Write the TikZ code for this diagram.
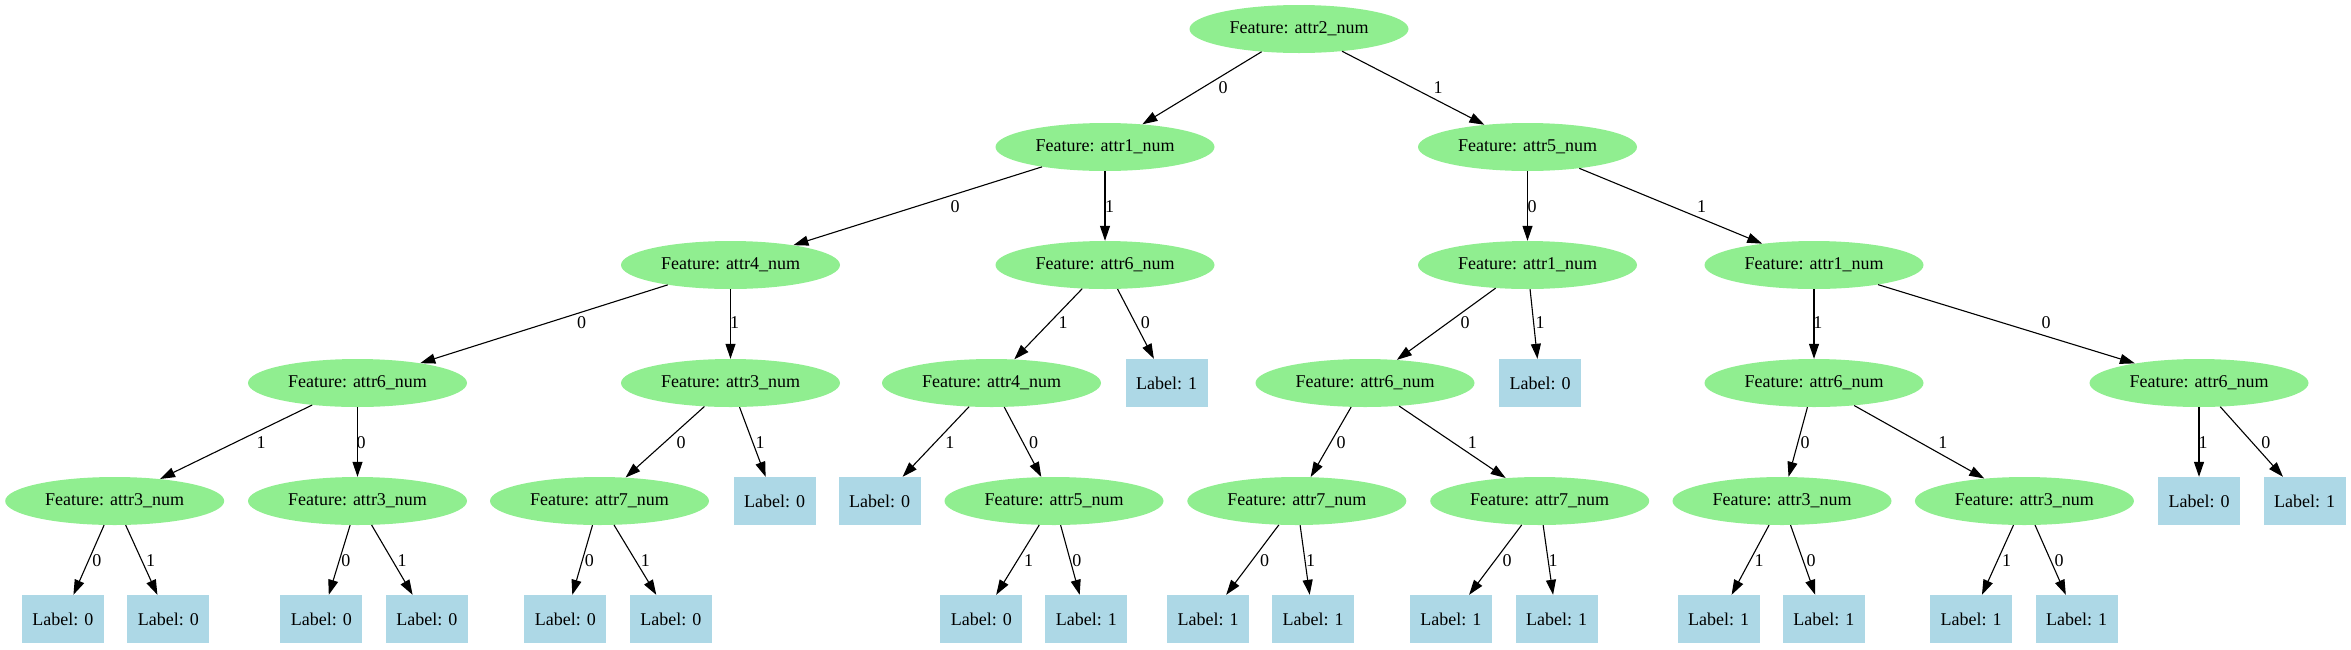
\documentclass[tikz,border=0pt]{standalone}
\usepackage{fontspec}
\setmainfont{Liberation Serif}
\usetikzlibrary{arrows.meta,shapes.geometric}
\definecolor{featgreen}{RGB}{144,238,144}
\definecolor{leafblue}{RGB}{173,216,230}
\begin{document}
\begin{tikzpicture}[x=1pt,y=-1pt,>={Triangle[length=15pt,width=10pt]}, font=\fontsize{18}{21}\selectfont, line join=round,
	feat/.style={ellipse, fill=featgreen, minimum width=219pt, minimum height=48pt, inner sep=0pt},
	leaf/.style={rectangle, fill=leafblue, minimum width=82pt, minimum height=48pt, inner sep=0pt},
	branch/.style={->, line width=1.1pt},
	lbl/.style={inner sep=0pt}]
	\useasboundingbox (0,0) rectangle (2351,649);
	\def\yo{29} \def\ya{147} \def\yb{265}
	\def\yc{383} \def\yd{501} \def\ye{619}
	%Tầng 0, 1, 2
	\node[feat] (n) at (1299,\yo) {Feature: attr2\_num};
	\node[feat] (n0) at (1105,\ya) {Feature: attr1\_num};
	\node[feat] (n1) at (1527.5,\ya) {Feature: attr5\_num};
	\node[feat] (n00) at (730.5,\yb) {Feature: attr4\_num};
	\node[feat] (n01) at (1105,\yb) {Feature: attr6\_num};
	\node[feat] (n10) at (1527.5,\yb) {Feature: attr1\_num};
	\node[feat] (n11) at (1814,\yb) {Feature: attr1\_num};
	%Tầng 3
	\node[feat] (n000) at (357.5,\yc) {Feature: attr6\_num};
	\node[feat] (n001) at (730.5,\yc) {Feature: attr3\_num};
	\node[feat] (n011) at (991.5,\yc) {Feature: attr4\_num};
	\node[leaf] (n010) at (1166.5,\yc) {Label: 1};
	\node[feat] (n100) at (1365,\yc) {Feature: attr6\_num};
	\node[leaf] (n101) at (1540,\yc) {Label: 0};
	\node[feat] (n111) at (1814,\yc) {Feature: attr6\_num};
	\node[feat] (n110) at (2199,\yc) {Feature: attr6\_num};
	%Tầng 4
	\node[feat] (n0001) at (114.7,\yd) {Feature: attr3\_num};
	\node[feat] (n0000) at (357.5,\yd) {Feature: attr3\_num};
	\node[feat] (n0010) at (599.5,\yd) {Feature: attr7\_num};
	\node[leaf] (n0011) at (774.7,\yd) {Label: 0};
	\node[leaf] (n0111) at (879.7,\yd) {Label: 0};
	\node[feat] (n0110) at (1054,\yd) {Feature: attr5\_num};
	\node[feat] (n1000) at (1296.8,\yd) {Feature: attr7\_num};
	\node[feat] (n1001) at (1539.7,\yd) {Feature: attr7\_num};
	\node[feat] (n1110) at (1782,\yd) {Feature: attr3\_num};
	\node[feat] (n1111) at (2024.4,\yd) {Feature: attr3\_num};
	\node[leaf] (n1101) at (2199,\yd) {Label: 0};
	\node[leaf] (n1100) at (2304.6,\yd) {Label: 1};
	%Tầng 5
	\node[leaf] (n00010) at (62.8,\ye) {Label: 0};
	\node[leaf] (n00011) at (168.4,\ye) {Label: 0};
	\node[leaf] (n00000) at (321.4,\ye) {Label: 0};
	\node[leaf] (n00001) at (426.8,\ye) {Label: 0};
	\node[leaf] (n00100) at (565.3,\ye) {Label: 0};
	\node[leaf] (n00101) at (670.9,\ye) {Label: 0};
	\node[leaf] (n01101) at (981.3,\ye) {Label: 0};
	\node[leaf] (n01100) at (1086.3,\ye) {Label: 1};
	\node[leaf] (n10000) at (1208,\ye) {Label: 1};
	\node[leaf] (n10001) at (1313,\ye) {Label: 1};
	\node[leaf] (n10010) at (1450.9,\ye) {Label: 1};
	\node[leaf] (n10011) at (1556.5,\ye) {Label: 1};
	\node[leaf] (n11101) at (1718.6,\ye) {Label: 1};
	\node[leaf] (n11100) at (1823.8,\ye) {Label: 1};
	\node[leaf] (n11111) at (1971,\ye) {Label: 1};
	\node[leaf] (n11110) at (2076.5,\ye) {Label: 1};
	%Cạnh
	\draw[branch] (n)--(n0) node[lbl] at (1223,88) {0};
	\draw[branch] (n)--(n1) node[lbl] at (1438,88) {1};
	\draw[branch] (n0)--(n00) node[lbl] at (955,207) {0};
	\draw[branch] (n0)--(n01) node[lbl] at (1109.5,207) {1};
	\draw[branch] (n1)--(n10) node[lbl] at (1532,207) {0};
	\draw[branch] (n1)--(n11) node[lbl] at (1701.5,207) {1};
	\draw[branch] (n00)--(n000) node[lbl] at (581.6,323) {0};
	\draw[branch] (n00)--(n001) node[lbl] at (734.7,323) {1};
	\draw[branch] (n01)--(n011) node[lbl] at (1063,323) {1};
	\draw[branch] (n01)--(n010) node[lbl] at (1145.3,323) {0};
	\draw[branch] (n10)--(n100) node[lbl] at (1465.2,323) {0};
	\draw[branch] (n10)--(n101) node[lbl] at (1540,323) {1};
	\draw[branch] (n11)--(n111) node[lbl] at (1817.9,323) {1};
	\draw[branch] (n11)--(n110) node[lbl] at (2046,323) {0};
	\draw[branch] (n000)--(n0001) node[lbl] at (261.2,443) {1};
	\draw[branch] (n000)--(n0000) node[lbl] at (361.2,443) {0};
	\draw[branch] (n001)--(n0010) node[lbl] at (681.1,443) {0};
	\draw[branch] (n001)--(n0011) node[lbl] at (760.2,443) {1};
	\draw[branch] (n011)--(n0111) node[lbl] at (949.9,443) {1};
	\draw[branch] (n011)--(n0110) node[lbl] at (1033.6,443) {0};
	\draw[branch] (n100)--(n1000) node[lbl] at (1341.2,443) {0};
	\draw[branch] (n100)--(n1001) node[lbl] at (1472.3,443) {1};
	\draw[branch] (n111)--(n1110) node[lbl] at (1805,443) {0};
	\draw[branch] (n111)--(n1111) node[lbl] at (1942.9,443) {1};
	\draw[branch] (n110)--(n1101) node[lbl] at (2203,443) {1};
	\draw[branch] (n110)--(n1100) node[lbl] at (2265.8,443) {0};
	\draw[branch] (n0001)--(n00010) node[lbl] at (96.9,561) {0};
	\draw[branch] (n0001)--(n00011) node[lbl] at (150.5,561) {1};
	\draw[branch] (n0000)--(n00000) node[lbl] at (345.9,561) {0};
	\draw[branch] (n0000)--(n00001) node[lbl] at (402,561) {1};
	\draw[branch] (n0010)--(n00100) node[lbl] at (589.3,561) {0};
	\draw[branch] (n0010)--(n00101) node[lbl] at (645.4,561) {1};
	\draw[branch] (n0110)--(n01101) node[lbl] at (1028.5,561) {1};
	\draw[branch] (n0110)--(n01100) node[lbl] at (1076.9,561) {0};
	\draw[branch] (n1000)--(n10000) node[lbl] at (1264.7,561) {0};
	\draw[branch] (n1000)--(n10001) node[lbl] at (1310.6,561) {1};
	\draw[branch] (n1001)--(n10010) node[lbl] at (1507,561) {0};
	\draw[branch] (n1001)--(n10011) node[lbl] at (1553,561) {1};
	\draw[branch] (n1110)--(n11101) node[lbl] at (1759.2,561) {1};
	\draw[branch] (n1110)--(n11100) node[lbl] at (1811.2,561) {0};
	\draw[branch] (n1111)--(n11111) node[lbl] at (2006.6,561) {1};
	\draw[branch] (n1111)--(n11110) node[lbl] at (2059.2,561) {0};
\end{tikzpicture}
\end{document}
